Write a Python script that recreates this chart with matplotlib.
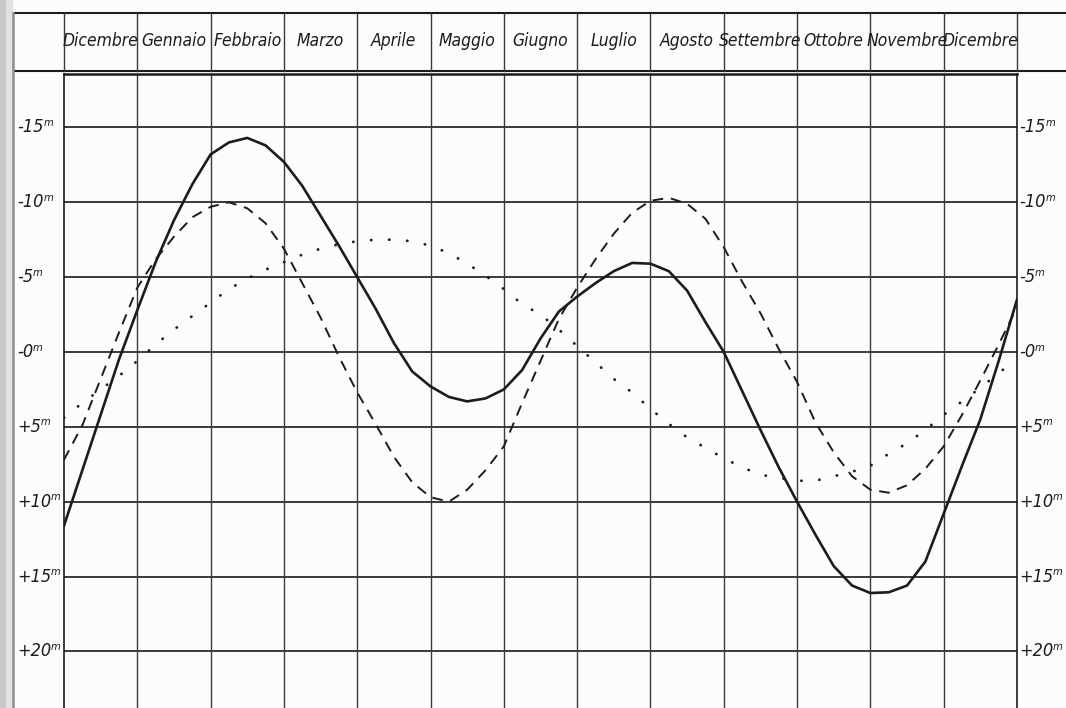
import matplotlib
matplotlib.use('Agg')
import matplotlib.pyplot as plt
from matplotlib import font_manager
from matplotlib import transforms
from matplotlib.patches import Rectangle

# month columns, Dicembre .. Dicembre
mesi = ['Dicembre', 'Gennaio', 'Febbraio', 'Marzo', 'Aprile', 'Maggio', 'Giugno',
        'Luglio', 'Agosto', 'Settembre', 'Ottobre', 'Novembre', 'Dicembre']

# positions in months (quarter of a month steps)
pos = [i / 4 for i in range(53)]

# full curve (solid), minutes
totale = [11.6, 7.9, 4.2, 0.5, -2.8, -6.0, -8.8, -11.2, -13.2, -14.0, -14.3, -13.8,
          -12.7, -11.1, -9.1, -7.1, -5.0, -2.9, -0.6, 1.3, 2.3, 3.0, 3.3, 3.1,
          2.5, 1.2, -0.9, -2.7, -3.7, -4.6, -5.4, -5.95, -5.9, -5.4, -4.1, -2.0,
          0.0, 2.6, 5.2, 7.7, 10.0, 12.2, 14.3, 15.6, 16.1, 16.05, 15.6, 14.0,
          10.8, 7.6, 4.5, 0.6, -3.5]

# dashed curve, minutes
obliquita = [7.2, 4.9, 1.8, -1.3, -4.3, -6.2, -7.7, -9.0, -9.7, -10.0, -9.6, -8.6,
             -6.9, -4.6, -2.3, 0.3, 2.7, 4.8, 7.0, 8.7, 9.7, 10.0, 9.2, 7.9,
             6.3, 3.4, 0.6, -2.2, -4.3, -6.2, -7.9, -9.3, -10.1, -10.3, -9.9, -8.9,
             -7.0, -4.7, -2.6, -0.2, 2.0, 4.7, 6.7, 8.3, 9.2, 9.4, 8.9, 7.8,
             6.3, 4.2, 1.9, -0.5, -3.0]

# dotted curve, minutes
eccentricita = [4.4, 3.4, 2.5, 1.6, 0.6, -0.5, -1.5, -2.4, -3.3, -4.2, -4.9, -5.5,
                -6.0, -6.5, -6.9, -7.2, -7.4, -7.5, -7.5, -7.4, -7.1, -6.6, -5.9, -5.1,
                -4.2, -3.2, -2.5, -1.5, -0.4, 0.7, 1.8, 2.7, 3.8, 4.8, 5.7, 6.4,
                7.1, 7.7, 8.2, 8.4, 8.6, 8.6, 8.3, 8.0, 7.6, 6.8, 6.1, 5.2,
                4.2, 3.3, 2.4, 1.4, 0.5]

y_ticks = [-15, -10, -5, 0, 5, 10, 15, 20]
y_labels = ['-15', '-10', '-5', '-0', '+5', '+10', '+15', '+20']

names = {f.name for f in font_manager.fontManager.ttflist}
if 'Liberation Sans Narrow' in names:
    fam, stretch, fs_m, fs_y = 'Liberation Sans Narrow', 'normal', 14, 14
else:
    fam, stretch, fs_m, fs_y = 'DejaVu Sans', 'condensed', 12.5, 13

ink = '#1c1c1c'
grid_c = '#3a3a3a'

W, H = 1066, 708
fig = plt.figure(figsize=(W / 100, H / 100), dpi=100)
fig.patch.set_facecolor('#fcfcfb')

# scan shadow on the left edge
fig.patches.append(Rectangle((0, 0), 6 / W, 1, transform=fig.transFigure,
                             color='#c8c8c8', zorder=0))
fig.patches.append(Rectangle((6 / W, 0), 6 / W, 1, transform=fig.transFigure,
                             color='#e2e2e2', zorder=0))
fig.add_artist(plt.Line2D([13 / W, 13 / W], [0, 1 - 13 / H], transform=fig.transFigure,
                          color='#8c8c8c', lw=1.8))

ax = fig.add_axes([64 / W, 0, 953 / W, 634 / H])
ax.set_facecolor('none')
ax.set_xlim(0, 13)
ax.set_ylim(23.78, -18.57)
ax.set_xticks([])
ax.set_yticks([])
for s in ['left', 'right', 'top']:
    ax.spines[s].set_color(ink)
ax.spines['left'].set_linewidth(1.2)
ax.spines['right'].set_linewidth(1.2)
ax.spines['top'].set_linewidth(1.8)
ax.spines['bottom'].set_visible(False)

for i in range(1, 13):
    ax.axvline(i, color=grid_c, lw=1.0, zorder=1)
for v in y_ticks:
    ax.axhline(v, color=grid_c, lw=1.4, zorder=1)

ax.plot(pos, totale, color=ink, lw=1.9, solid_joinstyle='round', zorder=3)
ax.plot(pos, obliquita, color=ink, lw=1.4, dashes=(5.5, 4.0), zorder=3)
ax.plot(pos, eccentricita, color=ink, lw=2.0, dashes=(0.1, 6.4),
        dash_capstyle='round', zorder=3)

# y labels on both sides
tr = transforms.blended_transform_factory(fig.transFigure, ax.transData)
for v, lab in zip(y_ticks, y_labels):
    for xf in (17 / W, 1019 / W):
        t = ax.text(xf, v, lab, transform=tr, ha='left', va='center', fontsize=fs_y,
                    style='italic', family=fam, fontstretch=stretch, color=ink,
                    clip_on=False)
        ax.annotate('m', xy=(1.0, 1.02), xycoords=t, ha='left', va='top',
                    fontsize=fs_y * 0.62, style='italic', family=fam,
                    fontstretch=stretch, color=ink, annotation_clip=False)

# header with month names
hax = fig.add_axes([64 / W, (H - 71) / H, 953 / W, 58 / H])
hax.set_xlim(0, 13)
hax.set_ylim(0, 1)
hax.axis('off')
x_left = (13 - 64) / 73.3
x_right = (1066 - 64) / 73.3
hax.plot([x_left, x_right], [1, 1], color=ink, lw=1.5, clip_on=False)
hax.plot([x_left, x_right], [0, 0], color=ink, lw=1.5, clip_on=False)
for i in range(14):
    hax.plot([i, i], [0, 1], color=grid_c, lw=1.0, clip_on=False)
for i, m in enumerate(mesi):
    hax.text(i + 0.5, 0.52, m, ha='center', va='center', fontsize=fs_m, style='italic',
             family=fam, fontstretch=stretch, color=ink)

fig.savefig('out.png', dpi=100, facecolor=fig.get_facecolor())
